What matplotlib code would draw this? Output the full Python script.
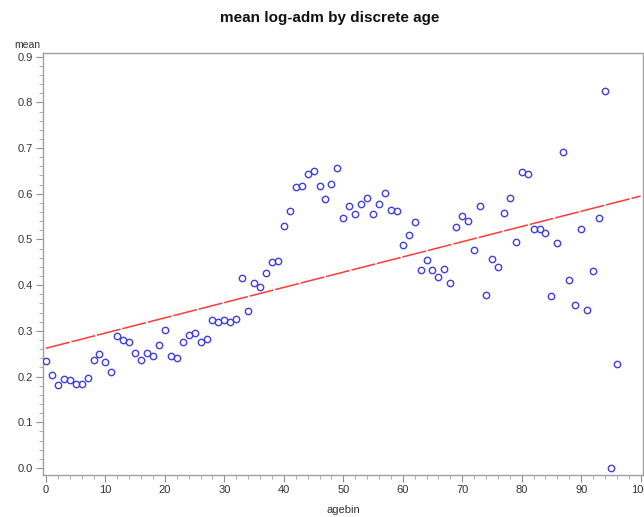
import matplotlib
matplotlib.use("Agg")
import matplotlib.pyplot as plt
from matplotlib.ticker import MultipleLocator, FormatStrFormatter
import numpy as np

plt.rcParams['font.family'] = ['Liberation Sans', 'DejaVu Sans']

agebin = list(range(0, 97))
mean_logadm = [
    0.234, 0.204, 0.182, 0.195, 0.193, 0.183, 0.183, 0.196, 0.236, 0.250,
    0.233, 0.210, 0.288, 0.281, 0.275, 0.252, 0.236, 0.252, 0.245, 0.269,
    0.302, 0.244, 0.240, 0.275, 0.290, 0.296, 0.275, 0.282, 0.324, 0.319,
    0.324, 0.319, 0.326, 0.416, 0.344, 0.404, 0.396, 0.427, 0.451, 0.454,
    0.530, 0.563, 0.614, 0.616, 0.643, 0.649, 0.616, 0.589, 0.621, 0.656,
    0.546, 0.574, 0.556, 0.578, 0.591, 0.556, 0.578, 0.601, 0.565, 0.563,
    0.489, 0.509, 0.538, 0.433, 0.455, 0.433, 0.419, 0.435, 0.404, 0.528,
    0.551, 0.541, 0.476, 0.573, 0.379, 0.457, 0.440, 0.557, 0.590, 0.495,
    0.648, 0.643, 0.524, 0.522, 0.514, 0.376, 0.492, 0.691, 0.412, 0.357,
    0.524, 0.345, 0.431, 0.547, 0.825, 0.000, 0.228,
]
fit_x = [0, 100]
fit_intercept = 0.262
fit_slope = 0.00333

fig = plt.figure(figsize=(6.44, 5.17), dpi=100)
ax = fig.add_axes([43/644, 1-475/517, 600/644, 422/517])

fx = np.array(fit_x, dtype=float)
ax.plot(fx, fit_intercept + fit_slope*fx, color='#ff3a3a', lw=1.1,
        dashes=(16, 1.2), zorder=2)
ax.plot(agebin, mean_logadm, linestyle='none', marker='o', markersize=4.6,
        markerfacecolor='none', markeredgecolor='#4040e0', markeredgewidth=1.0,
        zorder=3)

ax.set_xlim(-0.5, 100.4)
ax.set_ylim(-0.0153, 0.908)
ax.xaxis.set_major_locator(MultipleLocator(10))
ax.xaxis.set_minor_locator(MultipleLocator(2))
ax.yaxis.set_major_locator(MultipleLocator(0.1))
ax.yaxis.set_minor_locator(MultipleLocator(0.02))
ax.yaxis.set_major_formatter(FormatStrFormatter('%.1f'))

for s in ax.spines.values():
    s.set_color('#a0a0a0')
    s.set_linewidth(1.0)
ax.tick_params(which='major', length=5, width=0.8, color='#909090',
               labelsize=8, labelcolor='#333333', pad=2)
ax.tick_params(which='minor', length=3, width=0.6, color='#a0a0a0')

fig.text(330/644, 1-18/517, 'mean log-adm by discrete age', ha='center',
         va='center', fontsize=11, fontweight='bold', color='#111111')
fig.text(27/644, 1-45/517, 'mean', ha='center', va='center', fontsize=7.5,
         color='#333333')
fig.text(343/644, 1-510/517, 'agebin', ha='center', va='center',
         fontsize=8, color='#333333')

fig.savefig('out.png', dpi=100)
